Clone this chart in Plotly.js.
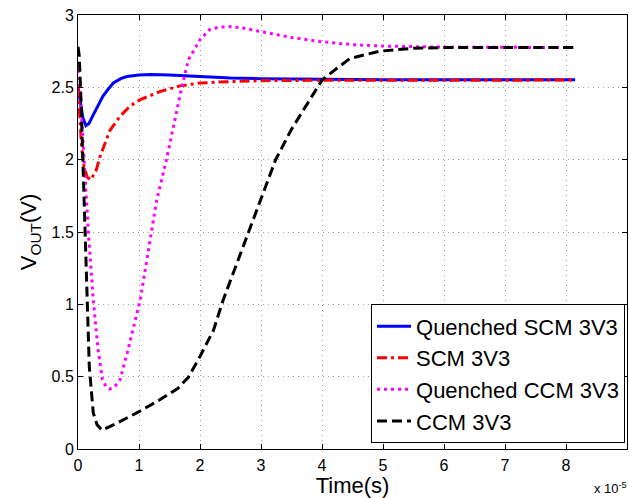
<!DOCTYPE html>
<html>
<head>
<meta charset="utf-8">
<script src="https://cdn.plot.ly/plotly-3.0.1.min.js"></script>
<style>html,body{margin:0;padding:0;background:#fff;}#chart{width:629px;height:498px;}</style>
</head>
<body>
<div id="chart"></div>
<script>
// Time axis values are in units of 1e-5 s
const seriesNames = ["Quenched SCM 3V3", "SCM 3V3", "Quenched CCM 3V3", "CCM 3V3"];

const qscmT = [0, 0.04, 0.08, 0.13, 0.18, 0.25, 0.33, 0.41, 0.5, 0.58, 0.7, 0.8, 1.0, 1.2, 1.5, 1.9, 2.5, 3.0, 4.0, 5.0, 6.0, 8.15];
const qscmV = [2.5, 2.4, 2.29, 2.235, 2.25, 2.31, 2.38, 2.44, 2.49, 2.53, 2.56, 2.575, 2.585, 2.588, 2.585, 2.575, 2.565, 2.56, 2.555, 2.553, 2.552, 2.552];

const scmT = [0, 0.03, 0.06, 0.1, 0.15, 0.21, 0.3, 0.36, 0.45, 0.52, 0.69, 0.85, 1.02, 1.34, 1.67, 2.0, 2.5, 3.0, 4.0, 5.0, 8.15];
const scmV = [2.5, 2.3, 2.08, 1.95, 1.88, 1.86, 1.93, 2.02, 2.13, 2.2, 2.3, 2.37, 2.415, 2.47, 2.51, 2.53, 2.54, 2.546, 2.549, 2.55, 2.55];

const qccmT = [0, 0.05, 0.1, 0.17, 0.25, 0.33, 0.4, 0.46, 0.52, 0.6, 0.69, 0.82, 1.02, 1.15, 1.29, 1.45, 1.58, 1.70, 1.81, 2.0, 2.16, 2.3, 2.49, 2.7, 3.0, 3.5, 4.0, 4.5, 5.0, 6.0, 8.15];
const qccmV = [2.62, 2.35, 2.0, 1.5, 1.03, 0.685, 0.48, 0.43, 0.415, 0.43, 0.48, 0.685, 1.03, 1.35, 1.72, 2.0, 2.27, 2.5, 2.69, 2.83, 2.9, 2.915, 2.92, 2.91, 2.885, 2.845, 2.815, 2.795, 2.785, 2.778, 2.775];

const ccmT = [0, 0.02, 0.05, 0.077, 0.1, 0.13, 0.15, 0.185, 0.25, 0.31, 0.39, 0.58, 1.0, 1.34, 1.64, 1.81, 2.0, 2.22, 2.38, 2.8, 3.24, 3.5, 4.0, 4.24, 4.46, 4.95, 5.5, 6.0, 8.15];
const ccmV = [2.78, 2.72, 2.4, 2.0, 1.8, 1.35, 1.03, 0.57, 0.25, 0.17, 0.13, 0.166, 0.258, 0.34, 0.42, 0.496, 0.64, 0.82, 1.03, 1.5, 2.0, 2.21, 2.55, 2.63, 2.70, 2.75, 2.77, 2.775, 2.775];

const xTicks = [0, 1, 2, 3, 4, 5, 6, 7, 8, 9];
const yTicks = [0, 0.5, 1, 1.5, 2, 2.5, 3];

const FONT = "Liberation Sans, Arial, Helvetica, sans-serif";

const traces = [
  {x: qscmT, y: qscmV, name: seriesNames[0], mode: "lines", line: {color: "#0000ff", width: 3}},
  {x: scmT, y: scmV, name: seriesNames[1], mode: "lines", line: {color: "#ff0000", width: 3, dash: "10px,4px,3px,4px"}},
  {x: qccmT, y: qccmV, name: seriesNames[2], mode: "lines", line: {color: "#ff00ff", width: 3, dash: "3px,4px"}},
  {x: ccmT, y: ccmV, name: seriesNames[3], mode: "lines", line: {color: "#000000", width: 3, dash: "10px,5px"}}
];

const axisCommon = {
  showline: true, linecolor: "#000", linewidth: 1, mirror: "ticks",
  ticks: "inside", ticklen: 5, tickcolor: "#000", tickwidth: 1,
  showgrid: true, gridcolor: "#9a9a9a", gridwidth: 1, griddash: "1px,4px",
  zeroline: false, tickfont: {family: FONT, size: 16, color: "#000"}
};

const layout = {
  width: 629, height: 498,
  margin: {l: 78, r: 2, t: 15, b: 49},
  paper_bgcolor: "#fff", plot_bgcolor: "#fff",
  font: {family: FONT, color: "#000"},
  showlegend: true,
  legend: {
    x: 0.9964, xanchor: "right", y: 0.013, yanchor: "bottom",
    bgcolor: "#fff", bordercolor: "#000", borderwidth: 1,
    font: {family: FONT, size: 22, color: "#000"},
    itemwidth: 34
  },
  xaxis: Object.assign({}, axisCommon, {
    range: [0, 9], tickvals: xTicks, ticktext: xTicks.map(String),
    ticklabelstandoff: 2,
    title: {text: "Time(s)", font: {family: FONT, size: 22}, standoff: 1}
  }),
  yaxis: Object.assign({}, axisCommon, {
    range: [0, 3], tickvals: yTicks, ticktext: yTicks.map(String),
    title: {text: "V<sub>OUT</sub>(V)", font: {family: FONT, size: 22}, standoff: 8}
  }),
  annotations: [
    {xref: "paper", yref: "paper", x: 1.004, y: -0.09, xanchor: "right", yanchor: "middle",
     text: "x 10<sup>-5</sup>", showarrow: false, font: {family: FONT, size: 13, color: "#000"}}
  ]
};

Plotly.newPlot("chart", traces, layout, {displayModeBar: false, staticPlot: true});
</script>
</body>
</html>
